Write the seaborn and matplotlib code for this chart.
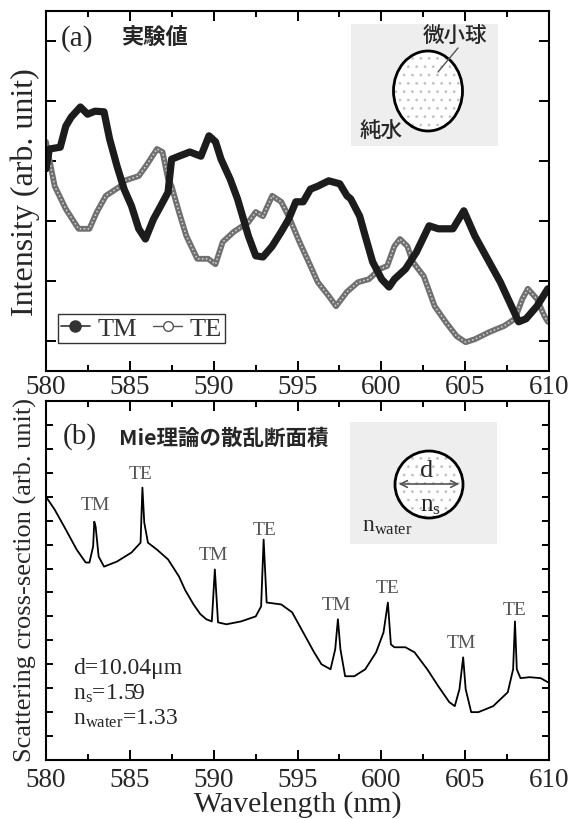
import numpy as np
import pandas as pd
import matplotlib
matplotlib.use('Agg')
import matplotlib.pyplot as plt
import seaborn as sns
from matplotlib.patches import Ellipse, FancyArrowPatch
from matplotlib.lines import Line2D
from matplotlib.ticker import MultipleLocator

sns.set_style('ticks')
plt.rcParams['font.family'] = ['Liberation Serif', 'Noto Sans CJK JP', 'DejaVu Sans']
plt.rcParams['mathtext.fontset'] = 'custom'
plt.rcParams['mathtext.rm'] = 'Liberation Serif'
plt.rcParams['mathtext.it'] = 'Liberation Serif:italic'
plt.rcParams['mathtext.bf'] = 'Liberation Serif:bold'
plt.rcParams['hatch.linewidth'] = 0.8

# ---------------- data ----------------
tm_wl = [580.00, 580.20, 580.85, 581.18, 581.50, 582.05, 582.48, 582.92, 583.46, 583.79,
         584.23, 584.66, 585.10, 585.53, 585.93, 586.41, 586.84, 587.28, 587.49, 587.93,
         588.58, 589.24, 589.72, 590.11, 590.44, 590.98, 591.42, 592.07, 592.51, 592.94,
         593.49, 594.03, 594.47, 594.90, 595.34, 595.77, 596.21, 596.86, 597.52, 597.95,
         598.17, 598.71, 599.04, 599.48, 600.02, 600.46, 600.78, 601.44, 602.09, 602.85,
         603.40, 604.27, 604.92, 605.58, 606.23, 607.10, 607.76, 608.19, 608.63, 609.28,
         609.93]
tm_int = [3.37, 3.70, 3.73, 4.08, 4.23, 4.40, 4.28, 4.33, 4.32, 3.87,
          3.42, 3.03, 2.75, 2.37, 2.20, 2.53, 2.75, 2.98, 3.53, 3.58,
          3.65, 3.58, 3.92, 3.82, 3.53, 3.20, 2.87, 2.25, 1.92, 1.90,
          2.08, 2.32, 2.53, 2.82, 2.82, 3.03, 3.08, 3.17, 3.12, 2.92,
          2.87, 2.58, 2.25, 1.82, 1.53, 1.40, 1.53, 1.70, 1.98, 2.42,
          2.37, 2.37, 2.67, 2.25, 1.92, 1.48, 1.08, 0.82, 0.87, 1.08,
          1.37]
te_wl = [580.00, 580.31, 580.52, 581.18, 581.94, 582.59, 583.03, 583.57, 584.44, 584.66,
         585.53, 585.97, 586.62, 586.95, 587.28, 587.49, 587.93, 588.37, 589.02, 589.67,
         590.11, 590.54, 591.20, 592.07, 592.51, 592.94, 593.49, 594.03, 594.47, 595.12,
         595.66, 596.21, 596.86, 597.30, 597.95, 598.61, 599.26, 599.91, 600.35, 600.78,
         601.11, 601.55, 601.87, 602.53, 603.18, 603.83, 604.49, 605.03, 605.58, 606.45,
         607.32, 607.97, 608.41, 608.74, 609.28, 609.72, 609.93]
te_int = [3.82, 3.37, 3.08, 2.70, 2.37, 2.37, 2.65, 2.92, 3.08, 3.17,
          3.25, 3.42, 3.70, 3.65, 3.20, 3.08, 2.65, 2.25, 1.87, 1.87,
          1.78, 2.15, 2.32, 2.48, 2.65, 2.58, 2.92, 2.82, 2.58, 2.15,
          1.82, 1.48, 1.25, 1.08, 1.32, 1.48, 1.53, 1.70, 1.75, 2.08,
          2.20, 2.08, 1.82, 1.58, 1.08, 0.82, 0.58, 0.48, 0.53, 0.65,
          0.75, 0.87, 1.20, 1.37, 1.20, 0.92, 0.82]

mie_wl = [580.00, 580.52, 581.18, 581.83, 582.37, 582.59, 582.81, 582.88, 582.96, 583.14,
          583.46, 584.23, 585.10, 585.64, 585.75, 585.86, 586.08, 586.62, 587.28, 587.93,
          588.30, 588.80, 589.20, 589.56, 589.89, 590.07, 590.26, 590.76, 591.63, 592.51,
          592.83, 592.98, 593.16, 594.03, 594.68, 595.34, 595.99, 596.43, 596.97, 597.25,
          597.41, 597.56, 597.84, 598.39, 599.04, 599.69, 600.13, 600.39, 600.57, 600.78,
          601.44, 601.98, 602.74, 603.40, 604.05, 604.38, 604.66, 604.88, 605.03, 605.36,
          605.79, 606.67, 607.54, 607.86, 607.97, 608.08, 608.30, 608.84, 609.50, 609.93]
mie_val = [11.00, 10.46, 9.63, 8.79, 8.25, 8.25, 8.92, 9.96, 9.75, 8.50,
           8.08, 8.29, 8.67, 9.08, 11.38, 9.92, 9.08, 8.79, 8.38, 7.67,
           7.10, 6.50, 6.10, 5.88, 5.79, 7.96, 5.75, 5.67, 5.79, 6.00,
           6.42, 9.21, 6.58, 6.50, 6.17, 5.33, 4.50, 4.00, 3.79, 4.63,
           5.88, 4.63, 3.50, 3.50, 3.79, 4.50, 5.33, 6.58, 4.83, 4.71,
           4.71, 4.50, 3.79, 3.08, 2.42, 2.25, 2.96, 4.29, 2.96, 2.00,
           2.00, 2.25, 2.83, 3.79, 5.79, 3.79, 3.42, 3.46, 3.42, 3.25]

peak_labels = ['TM', 'TE', 'TM', 'TE', 'TM', 'TE', 'TM', 'TE']
peak_wl = [582.92, 585.64, 590.00, 593.05, 597.30, 600.35, 604.80, 607.97]
peak_y = [10.67, 11.96, 8.58, 9.63, 6.50, 7.21, 4.92, 6.29]

x_ticks = [580, 585, 590, 595, 600, 605, 610]
params_text = ['d=10.04\u03bcm', '$\\mathrm{n_s}$=1.59', '$\\mathrm{n_{water}}$=1.33']

# ---------------- figure ----------------
W, H = 574, 820
fig = plt.figure(figsize=(W / 100, H / 100), dpi=100)
ax1 = fig.add_axes([46 / W, 1 - 372 / H, 503 / W, 360 / H])
ax2 = fig.add_axes([46 / W, 1 - 761 / H, 503 / W, 359 / H])

df_tm = pd.DataFrame({'wl': tm_wl, 'I': tm_int})
df_te = pd.DataFrame({'wl': te_wl, 'I': te_int})
df_mie = pd.DataFrame({'wl': mie_wl, 'S': mie_val})

# TE: gray band of open circles
sns.lineplot(data=df_te, x='wl', y='I', ax=ax1, color='#707070', lw=4.2,
             sort=False, estimator=None, legend=False)
ax1.plot(df_te['wl'], df_te['I'], color='#d6d6d6', lw=1.1, ls=(0, (1.0, 1.6)))
# TM: thick black
sns.lineplot(data=df_tm, x='wl', y='I', ax=ax1, color='#1c1c1c', lw=5.2,
             sort=False, estimator=None, legend=False)

sns.lineplot(data=df_mie, x='wl', y='S', ax=ax2, color='black', lw=1.3,
             sort=False, estimator=None, legend=False)

for ax in (ax1, ax2):
    ax.set_xlim(580, 610)
    ax.xaxis.set_major_locator(MultipleLocator(5))
    ax.xaxis.set_minor_locator(MultipleLocator(2.5))
    ax.set_xticks(x_ticks)
    ax.tick_params(which='both', direction='in', top=True, right=True,
                   width=1.4, color='black', labelleft=False, labelsize=19.5)
    ax.tick_params(which='major', length=7)
    ax.tick_params(which='minor', length=4)
    for s in ax.spines.values():
        s.set_linewidth(1.5)
        s.set_color('black')
    ax.set_ylabel('')
    ax.set_xlabel('')

ax1.set_ylim(0, 6)
ax1.set_yticks([0.5, 1.5, 2.5, 3.5, 4.5, 5.5])
ax1.tick_params(axis='x', pad=2)
ax2.set_ylim(0, 15)
ax2.set_yticks(list(range(1, 15)))
ax2.tick_params(axis='y', which='major', length=5)
ax2.tick_params(axis='x', pad=5)

ax1.set_ylabel('Intensity (arb. unit)', fontsize=23)
ax1.yaxis.set_label_coords(-0.012, 0.5)
ax2.set_ylabel('Scattering cross-section (arb. unit)', fontsize=19)
ax2.yaxis.set_label_coords(-0.018, 0.505)
ax2.set_xlabel('Wavelength (nm)', fontsize=21.5, labelpad=-1)

# panel titles
ax1.text(581.85, 5.55, '(a)', fontsize=21, ha='center', va='center')
ax1.text(584.45, 5.57, '実験値', fontsize=16, ha='left', va='center',
         family=['Noto Sans CJK JP', 'DejaVu Sans'], weight='bold')
ax2.text(582.0, 13.55, '(b)', fontsize=21, ha='center', va='center')
ax2.text(584.35, 13.46, 'Mie理論の散乱断面積', fontsize=15.5, ha='left', va='center',
         family=['Noto Sans CJK JP', 'DejaVu Sans'], weight='bold')

# legend
handles = [Line2D([], [], color='#333333', lw=1.2, marker='o', markersize=8,
                  markerfacecolor='#333333', markeredgecolor='#333333'),
           Line2D([], [], color='#555555', lw=1.0, marker='o', markersize=7,
                  markerfacecolor='white', markeredgecolor='#555555')]
leg = ax1.legend(handles, ['TM', 'TE'], ncol=2, loc='upper left',
                 bbox_to_anchor=(0.024, 0.158), frameon=True, fancybox=False,
                 edgecolor='#333333', framealpha=1, fontsize=19,
                 handlelength=1.1, handletextpad=0.3, columnspacing=0.6,
                 borderpad=0.1, borderaxespad=0, labelcolor='#333333')
leg.get_frame().set_linewidth(1.0)

# peak labels
for lab, xw, yv in zip(peak_labels, peak_wl, peak_y):
    ax2.text(xw, yv, lab, fontsize=14, color='#555555', ha='center', va='center')

# parameters text
ax2.text(581.61, 3.62, params_text[0], fontsize=17, ha='left', va='baseline')
ax2.text(581.61, 2.55, params_text[1], fontsize=17, ha='left', va='baseline')
ax2.text(581.61, 1.50, params_text[2], fontsize=17, ha='left', va='baseline')

# ---------------- insets ----------------
def make_inset(x0, x1, y0, y1):
    axi = fig.add_axes([x0 / W, 1 - y1 / H, (x1 - x0) / W, (y1 - y0) / H], zorder=5)
    axi.set_xlim(x0, x1)
    axi.set_ylim(y1, y0)
    axi.set_facecolor('#eeeeee')
    axi.set_xticks([])
    axi.set_yticks([])
    for s in axi.spines.values():
        s.set_visible(False)
    return axi

cjk = ['Noto Sans CJK JP', 'DejaVu Sans']

a1 = make_inset(351, 498, 25, 147)
a1.add_patch(Ellipse((428, 92), 69, 80, facecolor='white', edgecolor='#c4c4c4',
                     lw=0, hatch='..'))
a1.add_patch(Ellipse((428, 92), 69, 80, fill=False, edgecolor='black', lw=2))
a1.plot([458, 438], [49, 73], color='#555555', lw=1)
a1.text(455, 36, '微小球', fontsize=15.5, ha='center', va='center', family=cjk,
        weight='medium')
a1.text(381, 131, '純水', fontsize=15.5, ha='center', va='center', family=cjk,
        weight='medium')

a2 = make_inset(350, 497, 423, 545)
a2.add_patch(Ellipse((429, 485.5), 68, 67, facecolor='white', edgecolor='#c4c4c4',
                     lw=0, hatch='..'))
a2.add_patch(Ellipse((429, 485.5), 68, 67, fill=False, edgecolor='black', lw=2))
a2.add_patch(FancyArrowPatch((396, 485), (462, 485), arrowstyle='<->',
                             mutation_scale=12, color='#555555', lw=1.2))
a2.text(427, 471, 'd', fontsize=19, ha='center', va='center')
a2.text(430, 506, '$\\mathrm{n_s}$', fontsize=18, ha='center', va='center')
a2.text(362, 527, '$\\mathrm{n_{water}}$', fontsize=17, ha='left', va='center')

fig.savefig('out.png', dpi=100)
